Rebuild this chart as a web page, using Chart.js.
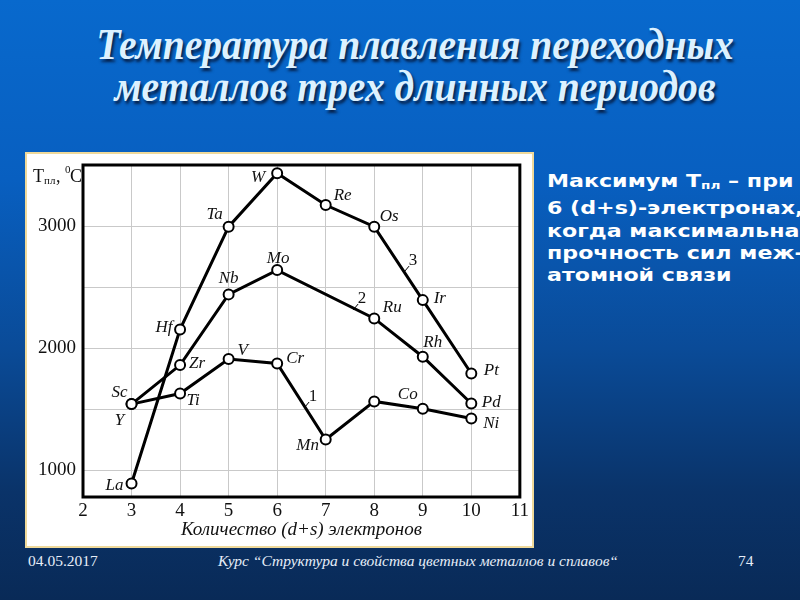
<!DOCTYPE html>
<html>
<head>
<meta charset="utf-8">
<script src="https://cdn.jsdelivr.net/npm/chart.js@4/dist/chart.umd.min.js"></script>
<style>
html, body { margin: 0; padding: 0; }
body {
    width: 800px; height: 600px; overflow: hidden; position: relative;
    background: linear-gradient(180deg, #0869cd 0%, #085fc0 30%, #0a4b98 58%, #0a3369 82%, #092a57 100%);
    font-family: "Liberation Serif", serif;
}
#titulo {
    position: absolute; left: 0; top: 24px; width: 830px; text-align: center;
    color: #dcf1ff; font: italic bold 44px "Liberation Serif", serif; line-height: 42px;
    text-shadow: 2px 3px 3px #062049;
    transform: scaleX(0.9); transform-origin: 415px 0;
}
#caja {
    position: absolute; left: 25px; top: 152px; width: 509px; height: 396px;
    background: #fff; box-shadow: inset 0 0 0 2px #efd99a;
}
#grafica { position: absolute; left: 0; top: 0; }
#nota {
    position: absolute; left: 547px; top: 170px; color: #fff;
    font: bold 18px "DejaVu Sans", sans-serif; line-height: 22.3px; white-space: nowrap;
    transform: scaleX(1.23); transform-origin: 0 0;
}
#nota sub { font-size: 11px; vertical-align: -2px; }
.pie { position: absolute; top: 552px; color: #e6edf8; font-size: 15.5px; }
</style>
</head>
<body>
<div id="titulo">Температура плавления переходных<br>металлов трех длинных периодов</div>

<div id="caja"><canvas id="grafica" width="509" height="396"></canvas></div>

<div id="nota">Максимум T<sub>пл</sub> – при<br>6 (d+s)-электронах,<br>когда максимальна<br>прочность сил меж-<br>атомной связи</div>

<div class="pie" style="left:28px">04.05.2017</div>
<div class="pie" style="left:218px;font-style:italic">Курс “Структура и свойства цветных металлов и сплавов“</div>
<div class="pie" style="left:738px">74</div>

<script>
// числа (d+s) электронов
const electrones = [3, 4, 5, 6, 7, 8, 9, 10];

// температуры плавления, °C
const periodo4 = [1541, 1628, 1910, 1874, 1251, 1563, 1503, 1423];   // Sc .. Ni
const periodo5 = [1541, 1861, 2440, 2639, null, 2243, 1929, 1546];   // Y .. Pd
const periodo6 = [891, 2153, 2995, 3432, 3172, 2995, 2393, 1792];    // La .. Pt

const metales4 = ['Sc', 'Ti', 'V', 'Cr', 'Mn', '', 'Co', 'Ni'];
const metales5 = ['Y', 'Zr', 'Nb', 'Mo', '', 'Ru', 'Rh', 'Pd'];
const metales6 = ['La', 'Hf', 'Ta', 'W', 'Re', 'Os', 'Ir', 'Pt'];

const ticksY = [1000, 1500, 2000, 2500, 3000];
const etiquetasY = [1000, 2000, 3000];

// номера кривых и где они стоят (в координатах осей)
const numeros = ['1', '2', '3'];
const numerosX = [6.74, 7.75, 8.8];
const numerosY = [1607, 2410, 2721];

// сдвиги подписей от точек, px
const desp4 = [[-12, -12], [13, 7], [14, -9], [18, -5], [-18, 6], [0, 0], [-15, -14], [20, 5]];
const desp5 = [[-12, 16], [17, -2], [0, -16], [1, -12], [0, 0], [18, -11], [10, -14], [20, -1]];
const desp6 = [[-17, 2], [-16, -2], [-14, -12], [-19, 4], [17, -10], [15, -10], [17, -2], [20, -3]];

const serie = (valores) => ({
    data: electrones.map((x, i) => ({ x: x, y: valores[i] })),
    borderColor: '#000',
    borderWidth: 3,
    pointRadius: 5,
    pointBorderWidth: 2,
    pointBackgroundColor: '#fff',
    pointBorderColor: '#000',
    spanGaps: true,
    tension: 0
});

const extras = {
    id: 'extras',
    afterDraw(chart) {
        const ctx = chart.ctx;
        const a = chart.chartArea;
        const sx = chart.scales.x, sy = chart.scales.y;
        ctx.save();
        // рамка
        ctx.strokeStyle = '#000';
        ctx.lineWidth = 3;
        ctx.strokeRect(a.left, a.top, a.right - a.left, a.bottom - a.top);

        // подписи металлов
        ctx.fillStyle = '#111';
        ctx.font = 'italic 17px "Liberation Serif"';
        ctx.textAlign = 'center';
        ctx.textBaseline = 'middle';
        [[metales4, periodo4, desp4], [metales5, periodo5, desp5], [metales6, periodo6, desp6]].forEach(([nombres, vals, desp]) => {
            nombres.forEach((n, i) => {
                if (!n || vals[i] == null) return;
                const px = sx.getPixelForValue(electrones[i]);
                const py = sy.getPixelForValue(vals[i]);
                ctx.fillText(n, px + desp[i][0], py + desp[i][1]);
            });
        });

        // номера кривых с выносками
        ctx.font = '17px "Liberation Serif"';
        ctx.lineWidth = 1;
        numeros.forEach((n, i) => {
            const px = sx.getPixelForValue(numerosX[i]);
            const py = sy.getPixelForValue(numerosY[i]);
            ctx.fillText(n, px, py);
            ctx.beginPath();
            ctx.moveTo(px - 4, py + 6);
            ctx.lineTo(px - 9, py + 12);
            ctx.stroke();
        });

        // подпись оси Y
        ctx.textAlign = 'left';
        ctx.textBaseline = 'alphabetic';
        ctx.font = '18px "Liberation Serif"';
        ctx.fillText('T', 8, 30);
        ctx.font = '11px "Liberation Serif"';
        ctx.fillText('пл', 19, 32);
        ctx.font = '18px "Liberation Serif"';
        ctx.fillText(',', 31, 30);
        ctx.font = '11px "Liberation Serif"';
        ctx.fillText('0', 40, 21);
        ctx.font = '18px "Liberation Serif"';
        ctx.fillText('C', 45, 30);
        ctx.restore();
    }
};

new Chart(document.getElementById('grafica'), {
    type: 'line',
    data: {
        datasets: [serie(periodo4), serie(periodo5), serie(periodo6)]
    },
    options: {
        responsive: false,
        animation: false,
        layout: { padding: { top: 13, right: 5, bottom: 9, left: 0 } },
        plugins: { legend: { display: false }, tooltip: { enabled: false } },
        scales: {
            x: {
                type: 'linear', min: 2, max: 11,
                ticks: { stepSize: 1, color: '#111', padding: 5, font: { family: 'Liberation Serif', size: 19, lineHeight: 1 } },
                grid: { color: '#c9c9c9', lineWidth: 1, drawTicks: false },
                border: { display: false },
                title: {
                    display: true, text: 'Количество (d+s) электронов', color: '#111',
                    font: { family: 'Liberation Serif', size: 19, style: 'italic', lineHeight: 1 },
                    padding: { top: -6, bottom: 0 }
                }
            },
            y: {
                min: 780, max: 3500,
                afterBuildTicks: s => { s.ticks = ticksY.map(v => ({ value: v })); },
                afterFit: s => { s.width = 58; s.paddingTop = 0; s.paddingBottom = 0; },
                ticks: {
                    color: '#111', padding: 7,
                    font: { family: 'Liberation Serif', size: 19, lineHeight: 1 },
                    callback: v => etiquetasY.includes(v) ? v : ''
                },
                grid: { color: '#c9c9c9', lineWidth: 1, drawTicks: false },
                border: { display: false }
            }
        }
    },
    plugins: [extras]
});
</script>
</body>
</html>
